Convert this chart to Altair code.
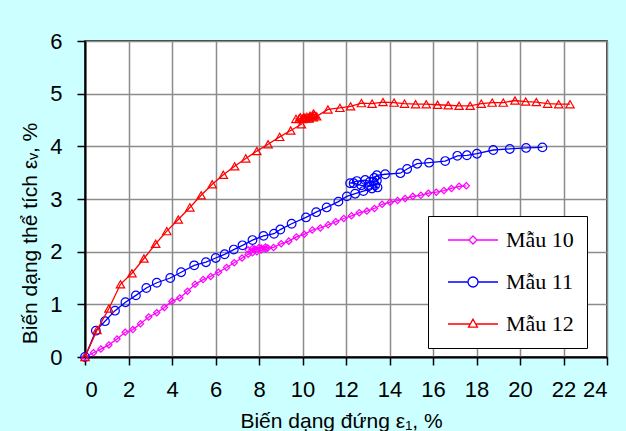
import altair as alt
import pandas as pd

# ---- data ----
series_names = ["Mẫu 10", "Mẫu 11", "Mẫu 12"]

x10 = [0, 0.39, 0.73, 1.1, 1.47, 1.85, 2.2, 2.55, 2.93, 3.3, 3.65, 4.0, 4.36, 4.71,
       5.06, 5.43, 5.78, 6.14, 6.51, 6.86, 7.22, 7.5,
       7.7, 7.9, 8.1, 8.3, 8.1, 7.8, 7.5, 7.7, 8.0, 8.3, 8.4,
       8.67, 9.02, 9.37, 9.72, 10.08, 10.45, 10.82, 11.18, 11.53, 11.9, 12.25,
       12.61, 12.96, 13.31, 13.66, 14.03, 14.37, 14.72, 15.07, 15.44, 15.79,
       16.15, 16.5, 16.85, 17.2, 17.53]
y10 = [0, 0.08, 0.15, 0.23, 0.34, 0.47, 0.52, 0.63, 0.76, 0.84, 0.94, 1.06, 1.12, 1.25,
       1.38, 1.47, 1.53, 1.61, 1.70, 1.79, 1.88, 1.95,
       1.98, 2.0, 2.03, 2.05, 2.07, 2.05, 2.03, 2.06, 2.08, 2.09, 2.07,
       2.08, 2.15, 2.2, 2.28, 2.33, 2.41, 2.45, 2.51, 2.57, 2.63, 2.68,
       2.74, 2.77, 2.82, 2.9, 2.94, 2.97, 3.01, 3.05, 3.07, 3.11,
       3.13, 3.16, 3.2, 3.24, 3.25]

x11 = [0, 0.5, 0.92, 1.38, 1.86, 2.34, 2.82, 3.3, 3.92, 4.42, 5.02, 5.56, 6.01,
       6.42, 6.84, 7.24, 7.7, 8.21, 8.69, 8.98, 9.5, 10.16, 10.63, 11.11, 11.65,
       12.04, 12.42, 12.8, 13.19, 13.45, 13.34, 13.03, 12.7, 12.35, 12.19, 12.5,
       12.88, 13.1, 13.26, 13.42, 13.3, 13.42, 13.8, 14.5, 14.81, 15.27, 15.82,
       16.56, 17.12, 17.56, 18.02, 18.77, 19.53, 20.28, 21.03]
y11 = [0, 0.5, 0.68, 0.88, 1.04, 1.17, 1.31, 1.41, 1.5, 1.61, 1.74, 1.8, 1.88,
       1.95, 2.04, 2.12, 2.22, 2.3, 2.34, 2.42, 2.53, 2.65, 2.75, 2.84, 2.95,
       3.05, 3.1, 3.15, 3.2, 3.22, 3.26, 3.24, 3.26, 3.3, 3.3, 3.34,
       3.36, 3.33, 3.33, 3.35, 3.4, 3.45, 3.47, 3.49, 3.57, 3.67, 3.69,
       3.72, 3.82, 3.83, 3.86, 3.93, 3.95, 3.97, 3.98]

x12 = [0, 0.55, 1.1, 1.63, 2.16, 2.71, 3.25, 3.76, 4.29, 4.82, 5.34, 5.85, 6.36,
       6.88, 7.39, 7.9, 8.42, 8.95, 9.46, 9.95,
       9.7, 9.85, 10.0, 10.15, 10.3, 10.45, 10.55, 10.5, 10.35, 10.2, 10.05, 9.9,
       10.1, 10.3, 10.5, 10.65,
       11.17, 11.72, 12.21, 12.71, 13.2, 13.7, 14.21, 14.69, 15.2, 15.69, 16.21,
       16.7, 17.2, 17.71, 18.22, 18.72, 19.23, 19.77, 20.26, 20.75, 21.27, 21.78, 22.3]
y12 = [0, 0.51, 0.92, 1.38, 1.59, 1.87, 2.15, 2.39, 2.61, 2.84, 3.07, 3.28, 3.46,
       3.62, 3.77, 3.91, 4.04, 4.18, 4.3, 4.42,
       4.52, 4.53, 4.52, 4.53, 4.55, 4.57, 4.6, 4.62, 4.58, 4.56, 4.55, 4.55,
       4.54, 4.53, 4.55, 4.57,
       4.7, 4.73, 4.76, 4.82, 4.81, 4.84, 4.83, 4.81, 4.8, 4.8, 4.79,
       4.78, 4.77, 4.77, 4.81, 4.83, 4.83, 4.87, 4.85, 4.84, 4.81, 4.8, 4.8]

x_ticks = list(range(0, 25, 2))
y_ticks = list(range(0, 7))

colors = ["#FF00FF", "#0000FF", "#FF0000"]
shapes = ["diamond", "circle", "triangle-up"]
marker_sizes = [40, 75, 70]

rows = []
for name, xs, ys in zip(series_names, [x10, x11, x12], [y10, y11, y12]):
    for i, (a, b) in enumerate(zip(xs, ys)):
        rows.append({"series": name, "idx": i, "x": a, "y": b})
df = pd.DataFrame(rows)

# legend symbols: line + hollow marker (path coords scaled by sqrt(size)/2)
legend_paths = [
    "M-2.5,0H-0.4M0.4,0H2.5M0,-0.4L0.4,0L0,0.4L-0.4,0Z",
    "M-2.5,0H-0.5M0.5,0H2.5M0.5,0A0.5,0.5,0,1,1,-0.5,0A0.5,0.5,0,1,1,0.5,0Z",
    "M-2.5,0H-0.3M0.3,0H2.5M0,-0.48L0.45,0.32L-0.45,0.32Z",
]

xscale = alt.Scale(domain=[0, 24], nice=False, zero=False)
yscale = alt.Scale(domain=[0, 6], nice=False, zero=False)
color_scale = alt.Scale(domain=series_names, range=colors)

label_font = "Liberation Sans Narrow, Arial Narrow, Liberation Sans"

xaxis = alt.Axis(values=x_ticks, title="Biến dạng đứng ε₁, %", grid=True,
                 labelFont=label_font, labelFontSize=22, labelColor="black",
                 labelPadding=14, tickSize=8, tickColor="black", tickWidth=1.5,
                 domainColor="black", domainWidth=2,
                 gridColor="#8c8c8c", gridWidth=1.5,
                 titleFont="Liberation Sans", titleFontSize=21, titleFontWeight="normal",
                 titleColor="black", titleX=256, titleY=70, titleBaseline="alphabetic",
                 titleAlign="center")
yaxis = alt.Axis(values=y_ticks, title="Biến dạng thể tích εᵥ, %", grid=True,
                 labelFont=label_font, labelFontSize=22, labelColor="black",
                 labelPadding=15, tickSize=8, tickColor="black", tickWidth=1.5,
                 domainColor="black", domainWidth=2,
                 gridColor="#8c8c8c", gridWidth=1.5,
                 titleFont="Liberation Sans", titleFontSize=21, titleFontWeight="normal",
                 titleColor="black", titleAngle=270, titleX=-55, titleY=192,
                 titleAlign="center", titleBaseline="middle")

base = alt.Chart(df)

layers = []
for k, (name, col, shp, sz) in enumerate(zip(series_names, colors, shapes, marker_sizes)):
    sub = base.transform_filter(alt.datum.series == name)
    if k == 0:
        xenc = alt.X("x:Q", scale=xscale, axis=xaxis)
        yenc = alt.Y("y:Q", scale=yscale, axis=yaxis)
    else:
        xenc = alt.X("x:Q", scale=xscale)
        yenc = alt.Y("y:Q", scale=yscale)
    layers.append(
        sub.mark_line(strokeWidth=1.3, color=col).encode(x=xenc, y=yenc, order="idx:Q")
    )
    layers.append(
        sub.mark_point(filled=False, strokeWidth=1.2, opacity=1, shape=shp, size=sz, color=col)
        .encode(x=alt.X("x:Q", scale=xscale), y=alt.Y("y:Q", scale=yscale))
    )

# legend-only layer (no rows drawn; entries come from the explicit scale domains)
legend_layer = base.transform_filter("false").mark_point(filled=False, strokeWidth=1.3).encode(
    x=alt.X("x:Q", scale=xscale),
    y=alt.Y("y:Q", scale=yscale),
    color=alt.Color(
        "series:N", scale=color_scale,
        legend=alt.Legend(
            title=None, orient="none", legendX=343, legendY=175,
            fillColor="white", strokeColor="black", padding=13,
            labelFont="Liberation Serif", labelFontSize=22, labelColor="black",
            labelOffset=22, symbolOffset=21, symbolSize=400, rowPadding=20,
            symbolStrokeWidth=1.3, symbolOpacity=1,
        ),
    ),
    shape=alt.Shape("series:N", scale=alt.Scale(domain=series_names, range=legend_paths)),
)

chart = alt.layer(*layers, legend_layer).properties(
    width=522, height=316,
    autosize=alt.AutoSizeParams(type="none"),
    padding={"left": 85, "top": 41, "right": 19, "bottom": 74},
    background="#CCFFFF",
).configure_view(
    fill="white", stroke="black", strokeWidth=1.5,
)

chart.save("out.html", embed_options={"renderer": "svg", "actions": False})
